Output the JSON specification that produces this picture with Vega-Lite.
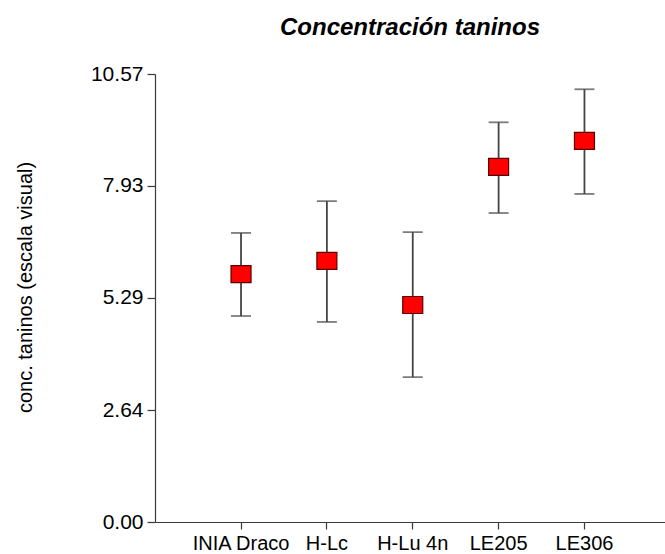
{
  "$schema": "https://vega.github.io/schema/vega-lite/v6.json",
  "width": 510,
  "height": 448,
  "autosize": {"type": "none"},
  "padding": {"left": 155, "top": 74, "right": 0, "bottom": 32},
  "background": "white",
  "config": {"view": {"stroke": null}},
  "title": {
    "text": "Concentración taninos",
    "font": "Liberation Sans",
    "fontSize": 24,
    "fontWeight": "bold",
    "fontStyle": "italic",
    "color": "#000000",
    "anchor": "middle",
    "offset": 23
  },
  "data": {
    "values": [
      {"variedad": "INIA Draco", "media": 5.85, "inf": 4.86, "sup": 6.82},
      {"variedad": "H-Lc", "media": 6.16, "inf": 4.72, "sup": 7.57},
      {"variedad": "H-Lu 4n", "media": 5.12, "inf": 3.42, "sup": 6.84},
      {"variedad": "LE205", "media": 8.38, "inf": 7.29, "sup": 9.43},
      {"variedad": "LE306", "media": 8.99, "inf": 7.74, "sup": 10.21}
    ]
  },
  "encoding": {
    "x": {
      "field": "variedad",
      "type": "nominal",
      "sort": null,
      "scale": {"paddingInner": 0, "paddingOuter": 0.47, "align": 0.534},
      "axis": {
        "title": null,
        "labelAngle": 0,
        "labelFont": "Liberation Sans",
        "labelFontSize": 20,
        "labelColor": "#000000",
        "labelPadding": 4,
        "tickSize": 7,
        "tickColor": "#3a3a3a",
        "domainColor": "#3a3a3a",
        "tickWidth": 1.2,
        "domainWidth": 1.2,
        "grid": false,
        "labelOverlap": false
      }
    }
  },
  "layer": [
    {
      "mark": {"type": "rule", "color": "#444444", "strokeWidth": 1.8},
      "encoding": {
        "y": {
          "field": "inf",
          "type": "quantitative",
          "scale": {"domain": [0, 10.57], "nice": false, "zero": false},
          "axis": {
            "title": "conc. taninos (escala visual)",
            "titleFont": "Liberation Sans",
            "titleFontSize": 20,
            "titleFontWeight": "normal",
            "titleColor": "#000000",
            "titleX": -130,
            "titleY": 213,
            "titleAlign": "center",
            "titleBaseline": "middle",
            "titleAngle": -90,
            "values": [0, 2.64, 5.29, 7.93, 10.57],
            "format": ".2f",
            "labelFont": "Liberation Sans",
            "labelFontSize": 21,
            "labelColor": "#000000",
            "labelPadding": 4,
            "tickSize": 8,
            "tickColor": "#3a3a3a",
            "domainColor": "#3a3a3a",
            "tickWidth": 1.2,
            "domainWidth": 1.2,
            "grid": false
          }
        },
        "y2": {"field": "sup"}
      }
    },
    {
      "mark": {"type": "tick", "color": "#444444", "size": 20, "thickness": 1.8},
      "encoding": {
        "y": {"field": "inf", "type": "quantitative", "scale": {"domain": [0, 10.57], "nice": false, "zero": false}}
      }
    },
    {
      "mark": {"type": "tick", "color": "#444444", "size": 20, "thickness": 1.8},
      "encoding": {
        "y": {"field": "sup", "type": "quantitative", "scale": {"domain": [0, 10.57], "nice": false, "zero": false}}
      }
    },
    {
      "mark": {
        "type": "point",
        "shape": "M-1,-0.85L1,-0.85L1,0.85L-1,0.85Z",
        "size": 400,
        "filled": true,
        "fill": "#ff0000",
        "stroke": "#5c0000",
        "strokeWidth": 1.2,
        "opacity": 1
      },
      "encoding": {
        "y": {"field": "media", "type": "quantitative", "scale": {"domain": [0, 10.57], "nice": false, "zero": false}}
      }
    }
  ]
}
